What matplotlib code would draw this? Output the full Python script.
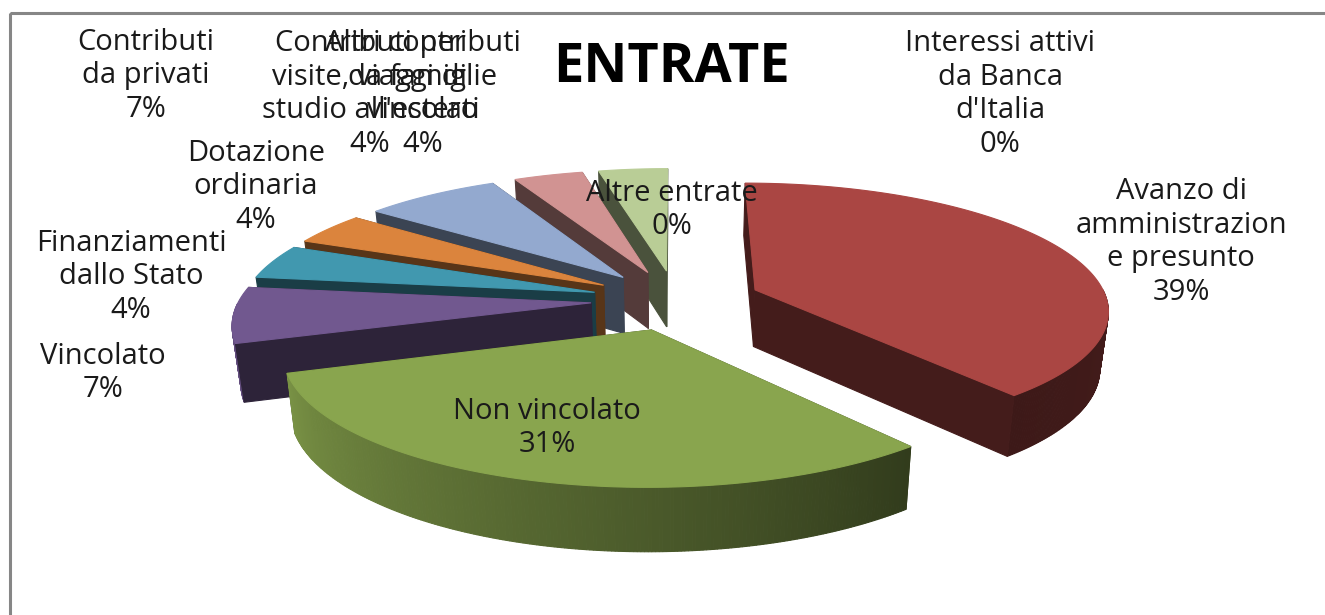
import numpy as np
import matplotlib
matplotlib.use("Agg")
import matplotlib.pyplot as plt
from matplotlib.patches import Polygon, Rectangle

# ---- data ----
title = "ENTRATE"
categories = ["Avanzo di\namministrazion\ne presunto", "Non vincolato", "Vincolato",
              "Finanziamenti\ndallo Stato", "Dotazione\nordinaria", "Contributi\nda privati",
              "Contributi per\nvisite, viaggi di\nstudio all'estero",
              "Altri contributi\nda famiglie\nvincolati",
              "Interessi attivi\nda Banca\nd'Italia", "Altre entrate"]
values = [39, 31, 7, 4.3, 4.05, 7.25, 3.7, 3.7, 0, 0]

# ---- styles / layout ----
colors = ["#AA4643", "#89A54E", "#71588F", "#4198AF", "#DB843D",
          "#93A9CF", "#D19392", "#B9CD96", "#80699B", "#3D96AE"]
label_xy = [(1181, 242), (547, 428), (103, 373), (131, 277), (256, 187),
            (146, 76), (370, 94), (423, 94), (1000, 94), (672, 210)]
CX, CY = 676, 300          # pie centre in image pixels
R, EXPLODE = 352, 85       # radius and explosion of each slice
D, FLAT = 2432, 0.355      # perspective distance, flattening
DEPTH, CONV = 57, 0.02     # extrusion depth and vertical convergence
FONT = "Open Sans"


def project(X, Y, down=False):
    X, Y = np.asarray(X, float), np.asarray(Y, float)
    s = D / (D + Y)
    sx = CX + X * s
    sy = CY - FLAT * Y * s
    if down:
        sx = CX + (sx - CX) * (1 - CONV)
        sy = sy + DEPTH * (1 + 0.6 * (s - 1))
    return np.column_stack([sx, sy])


def shade(color, f):
    return tuple(c * f for c in matplotlib.colors.to_rgb(color))


def poly(ax, pts, color):
    ax.add_patch(Polygon(pts, closed=True, facecolor=color, edgecolor=color, lw=0.8))


fig = plt.figure(figsize=(13.25, 6.15), dpi=100)
ax = fig.add_axes([0, 0, 1, 1])
ax.set_xlim(0, 1325)
ax.set_ylim(615, 0)
ax.axis("off")

ax.add_patch(Rectangle((10, 13), 1400, 700, fill=False, edgecolor="#868686", lw=2.2))

edges = np.concatenate([[0], np.cumsum(values)]) * 3.6
# painter's order: back slices first, counter-clockwise from the top
order = [7, 6, 5, 4, 3, 2, 0, 1]


def radial_wall(ox, oy, rx, ry, color):
    top = project([ox, rx], [oy, ry])
    bot = project([ox, rx], [oy, ry], down=True)
    poly(ax, np.vstack([top, bot[::-1]]), color)


for i in order:
    a0, a1 = edges[i], edges[i + 1]
    mid = np.radians((a0 + a1) / 2)
    ox, oy = EXPLODE * np.sin(mid), EXPLODE * np.cos(mid)
    ang = np.linspace(a0, a1, int(a1 - a0) * 2 + 2)
    rad = np.radians(ang)
    rx, ry = ox + R * np.sin(rad), oy + R * np.cos(rad)
    col = colors[i]
    wall = shade(col, 0.4)
    # a radial wall is visible when its outward normal points to the viewer
    walls = [(0, np.cos(np.radians(a0 - 90)) <= 1e-6), (-1, np.cos(np.radians(a1 + 90)) <= 1e-6)]
    for k, visible in walls:
        if not visible:
            radial_wall(ox, oy, rx[k], ry[k], wall)
    # rim wall, one facet per angular step on the front side
    for j in range(len(ang) - 1):
        am = (ang[j] + ang[j + 1]) / 2
        if 90 < am < 270:
            f = np.interp(am, [90, 140, 252], [0.4, 0.36, 0.88])
            top = project(rx[j:j + 2], ry[j:j + 2])
            bot = project(rx[j:j + 2], ry[j:j + 2], down=True)
            poly(ax, np.vstack([top, bot[::-1]]), shade(col, f))
    for k, visible in walls:
        if visible:
            radial_wall(ox, oy, rx[k], ry[k], wall)
    # top face
    poly(ax, project(np.r_[ox, rx], np.r_[oy, ry]), col)

for cat, v, (x, y) in zip(categories, values, label_xy):
    ax.text(x, y, f"{cat}\n{round(v)}%", ha="center", va="center", family=FONT,
            fontsize=21, color="#1a1a1a", linespacing=1.22, zorder=10)

ax.text(672, 68, title, ha="center", va="center", family=FONT, fontsize=39,
        fontweight="bold", color="black", zorder=10)

fig.savefig("out.png", dpi=100, facecolor="white")
